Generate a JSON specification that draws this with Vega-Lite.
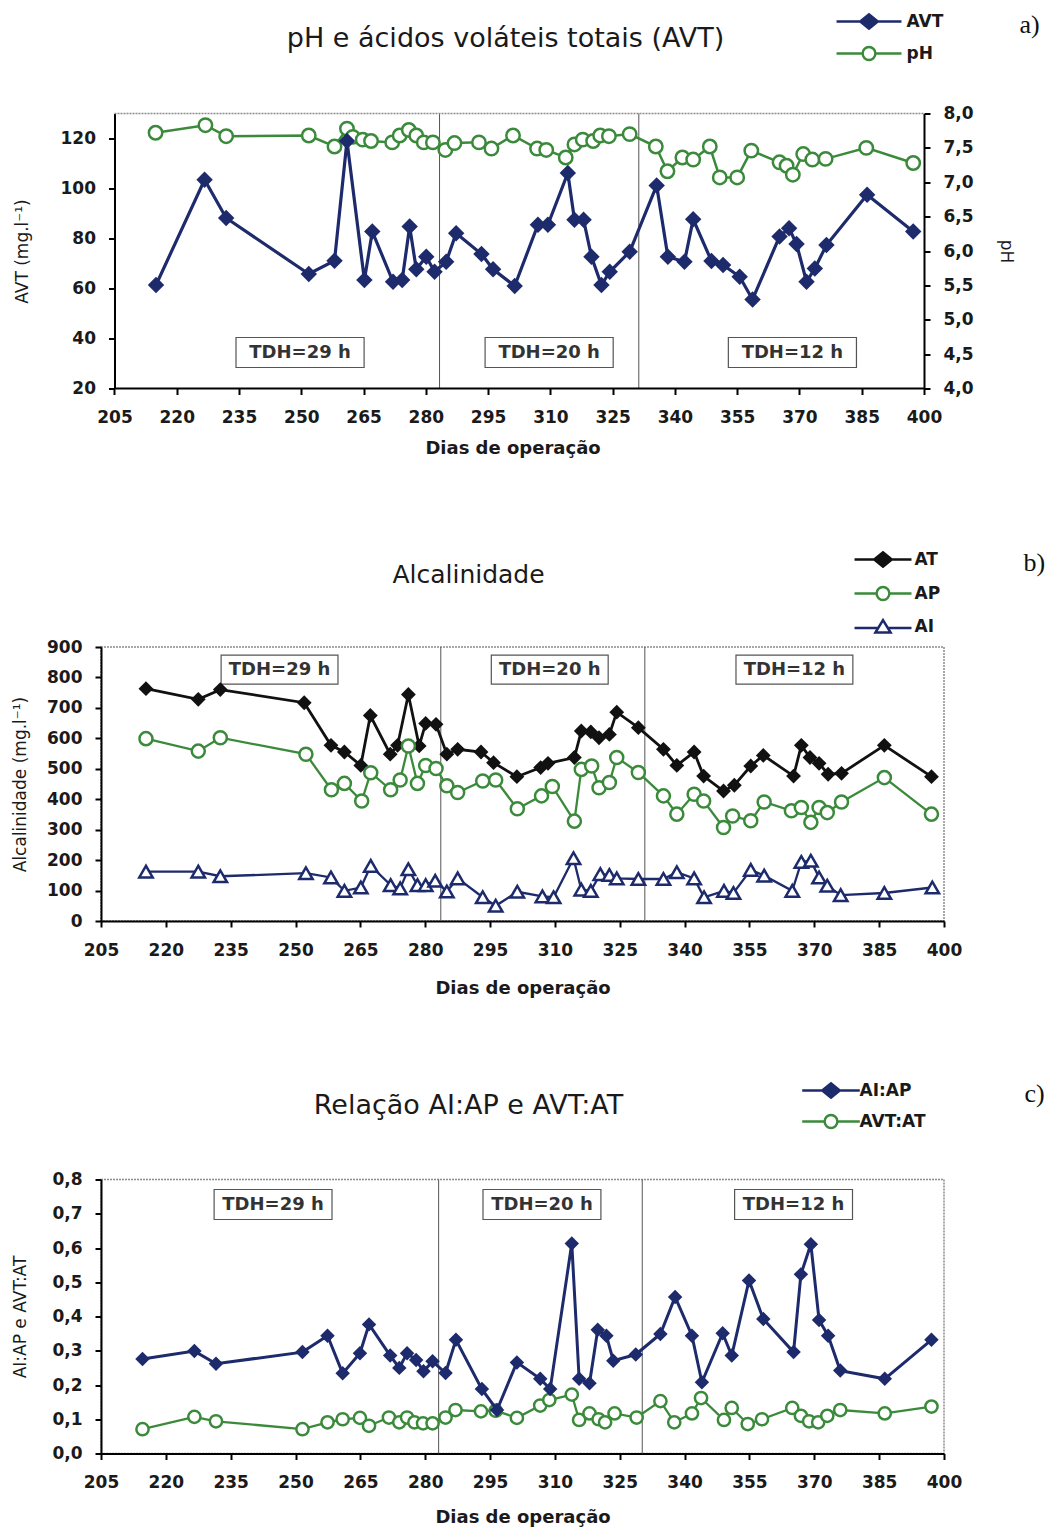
{
  "$schema": "https://vega.github.io/schema/vega-lite/v6.json",
  "background": "white",
  "padding": {"left": 10, "top": 11.5, "right": 5, "bottom": 5},
  "bounds": "flush",
  "spacing": 258.5,
  "resolve": {"scale": {"color": "independent"}, "legend": {"color": "independent"}},
  "datasets": {
    "a_avt": [
      {"s":"AVT","day":215.0,"v":61.4},{"s":"AVT","day":226.7,"v":103.5},{"s":"AVT","day":231.9,"v":88.2},{"s":"AVT","day":251.8,"v":65.8},
      {"s":"AVT","day":258.0,"v":71.1},{"s":"AVT","day":261.0,"v":119.0},{"s":"AVT","day":265.2,"v":63.4},{"s":"AVT","day":267.1,"v":82.8},
      {"s":"AVT","day":272.1,"v":62.7},{"s":"AVT","day":274.3,"v":63.4},{"s":"AVT","day":276.1,"v":84.8},{"s":"AVT","day":277.7,"v":67.7},
      {"s":"AVT","day":280.1,"v":72.7},{"s":"AVT","day":282.1,"v":66.7},{"s":"AVT","day":284.9,"v":70.7},{"s":"AVT","day":287.3,"v":82.1},
      {"s":"AVT","day":293.4,"v":73.8},{"s":"AVT","day":296.2,"v":67.7},{"s":"AVT","day":301.4,"v":61.0},{"s":"AVT","day":307.0,"v":85.5},
      {"s":"AVT","day":309.4,"v":85.5},{"s":"AVT","day":314.2,"v":106.2},{"s":"AVT","day":315.8,"v":87.5},{"s":"AVT","day":318.0,"v":87.5},
      {"s":"AVT","day":319.9,"v":72.7},{"s":"AVT","day":322.3,"v":61.4},{"s":"AVT","day":324.3,"v":66.7},{"s":"AVT","day":329.1,"v":74.7},
      {"s":"AVT","day":335.6,"v":101.2},{"s":"AVT","day":338.3,"v":72.7},{"s":"AVT","day":342.3,"v":70.7},{"s":"AVT","day":344.4,"v":87.7},
      {"s":"AVT","day":348.8,"v":71.0},{"s":"AVT","day":351.6,"v":69.4},{"s":"AVT","day":355.6,"v":64.7},{"s":"AVT","day":358.7,"v":55.6},
      {"s":"AVT","day":365.2,"v":80.8},{"s":"AVT","day":367.5,"v":84.1},{"s":"AVT","day":369.3,"v":77.8},{"s":"AVT","day":371.7,"v":62.7},
      {"s":"AVT","day":373.7,"v":68.0},{"s":"AVT","day":376.5,"v":77.4},{"s":"AVT","day":386.3,"v":97.5},{"s":"AVT","day":397.4,"v":82.8}
    ],
    "a_ph": [
      {"s":"pH","day":214.9,"v":7.72},{"s":"pH","day":226.9,"v":7.83},{"s":"pH","day":231.9,"v":7.67},{"s":"pH","day":251.8,"v":7.68},
      {"s":"pH","day":258.0,"v":7.52},{"s":"pH","day":261.0,"v":7.78},{"s":"pH","day":262.4,"v":7.66},{"s":"pH","day":264.8,"v":7.62},
      {"s":"pH","day":266.8,"v":7.60},{"s":"pH","day":271.9,"v":7.58},{"s":"pH","day":273.7,"v":7.68},{"s":"pH","day":275.9,"v":7.76},
      {"s":"pH","day":277.7,"v":7.68},{"s":"pH","day":279.5,"v":7.58},{"s":"pH","day":281.7,"v":7.58},{"s":"pH","day":284.7,"v":7.47},
      {"s":"pH","day":286.9,"v":7.57},{"s":"pH","day":292.8,"v":7.58},{"s":"pH","day":295.8,"v":7.49},{"s":"pH","day":301.0,"v":7.68},
      {"s":"pH","day":306.8,"v":7.49},{"s":"pH","day":309.0,"v":7.47},{"s":"pH","day":313.7,"v":7.36},{"s":"pH","day":315.8,"v":7.55},
      {"s":"pH","day":317.8,"v":7.62},{"s":"pH","day":320.3,"v":7.60},{"s":"pH","day":322.0,"v":7.68},{"s":"pH","day":324.1,"v":7.67},
      {"s":"pH","day":329.1,"v":7.70},{"s":"pH","day":335.4,"v":7.52},{"s":"pH","day":338.2,"v":7.16},{"s":"pH","day":341.8,"v":7.36},
      {"s":"pH","day":344.4,"v":7.33},{"s":"pH","day":348.4,"v":7.52},{"s":"pH","day":350.8,"v":7.07},{"s":"pH","day":355.0,"v":7.07},
      {"s":"pH","day":358.4,"v":7.46},{"s":"pH","day":365.2,"v":7.29},{"s":"pH","day":366.9,"v":7.24},{"s":"pH","day":368.4,"v":7.11},
      {"s":"pH","day":370.9,"v":7.41},{"s":"pH","day":373.1,"v":7.33},{"s":"pH","day":376.3,"v":7.34},{"s":"pH","day":386.1,"v":7.50},
      {"s":"pH","day":397.4,"v":7.28}
    ],
    "b_at": [
      {"s":"AT","day":215.4,"v":763},{"s":"AT","day":227.5,"v":728},{"s":"AT","day":232.6,"v":760},{"s":"AT","day":252.0,"v":717},
      {"s":"AT","day":258.2,"v":577},{"s":"AT","day":261.3,"v":555},{"s":"AT","day":265.1,"v":511},{"s":"AT","day":267.3,"v":675},
      {"s":"AT","day":271.9,"v":548},{"s":"AT","day":273.6,"v":577},{"s":"AT","day":276.1,"v":744},{"s":"AT","day":278.6,"v":575},
      {"s":"AT","day":280.1,"v":649},{"s":"AT","day":282.5,"v":646},{"s":"AT","day":285.0,"v":548},{"s":"AT","day":287.5,"v":564},
      {"s":"AT","day":292.9,"v":555},{"s":"AT","day":295.8,"v":520},{"s":"AT","day":301.2,"v":474},{"s":"AT","day":306.7,"v":504},
      {"s":"AT","day":308.4,"v":518},{"s":"AT","day":314.5,"v":537},{"s":"AT","day":316.1,"v":624},{"s":"AT","day":318.3,"v":621},
      {"s":"AT","day":320.2,"v":602},{"s":"AT","day":322.6,"v":613},{"s":"AT","day":324.3,"v":686},{"s":"AT","day":329.3,"v":635},
      {"s":"AT","day":335.1,"v":564},{"s":"AT","day":338.2,"v":511},{"s":"AT","day":342.2,"v":555},{"s":"AT","day":344.4,"v":476},
      {"s":"AT","day":349.0,"v":427},{"s":"AT","day":351.5,"v":446},{"s":"AT","day":355.3,"v":509},{"s":"AT","day":358.2,"v":544},
      {"s":"AT","day":365.2,"v":476},{"s":"AT","day":367.0,"v":577},{"s":"AT","day":369.0,"v":537},{"s":"AT","day":371.1,"v":518},
      {"s":"AT","day":373.2,"v":482},{"s":"AT","day":376.3,"v":485},{"s":"AT","day":386.2,"v":577},{"s":"AT","day":397.1,"v":474}
    ],
    "b_ap": [
      {"s":"AP","day":215.4,"v":599},{"s":"AP","day":227.5,"v":558},{"s":"AP","day":232.6,"v":602},{"s":"AP","day":252.4,"v":548},
      {"s":"AP","day":258.3,"v":431},{"s":"AP","day":261.3,"v":452},{"s":"AP","day":265.3,"v":394},{"s":"AP","day":267.4,"v":487},
      {"s":"AP","day":272.0,"v":431},{"s":"AP","day":274.2,"v":463},{"s":"AP","day":276.1,"v":575},{"s":"AP","day":278.2,"v":452},
      {"s":"AP","day":280.1,"v":511},{"s":"AP","day":282.5,"v":501},{"s":"AP","day":285.0,"v":444},{"s":"AP","day":287.5,"v":422},
      {"s":"AP","day":293.3,"v":460},{"s":"AP","day":296.3,"v":463},{"s":"AP","day":301.3,"v":369},{"s":"AP","day":306.9,"v":411},
      {"s":"AP","day":309.4,"v":442},{"s":"AP","day":314.5,"v":328},{"s":"AP","day":316.1,"v":498},{"s":"AP","day":318.5,"v":509},
      {"s":"AP","day":320.2,"v":438},{"s":"AP","day":322.6,"v":455},{"s":"AP","day":324.3,"v":537},{"s":"AP","day":329.3,"v":488},
      {"s":"AP","day":335.1,"v":411},{"s":"AP","day":338.2,"v":351},{"s":"AP","day":342.2,"v":416},{"s":"AP","day":344.4,"v":394},
      {"s":"AP","day":349.0,"v":307},{"s":"AP","day":351.1,"v":345},{"s":"AP","day":355.3,"v":329},{"s":"AP","day":358.4,"v":391},
      {"s":"AP","day":364.7,"v":362},{"s":"AP","day":367.0,"v":373},{"s":"AP","day":369.2,"v":324},{"s":"AP","day":371.1,"v":373},
      {"s":"AP","day":373.0,"v":356},{"s":"AP","day":376.3,"v":391},{"s":"AP","day":386.2,"v":471},{"s":"AP","day":397.1,"v":351}
    ],
    "b_ai": [
      {"s":"AI","day":215.4,"v":162},{"s":"AI","day":227.5,"v":162},{"s":"AI","day":232.6,"v":147},{"s":"AI","day":252.4,"v":157},
      {"s":"AI","day":258.2,"v":143},{"s":"AI","day":261.3,"v":99},{"s":"AI","day":265.1,"v":110},{"s":"AI","day":267.4,"v":181},
      {"s":"AI","day":272.0,"v":118},{"s":"AI","day":274.2,"v":107},{"s":"AI","day":276.1,"v":170},{"s":"AI","day":278.2,"v":118},
      {"s":"AI","day":280.1,"v":118},{"s":"AI","day":282.3,"v":132},{"s":"AI","day":285.0,"v":97},{"s":"AI","day":287.5,"v":140},
      {"s":"AI","day":293.3,"v":78},{"s":"AI","day":296.3,"v":50},{"s":"AI","day":301.3,"v":96},{"s":"AI","day":307.1,"v":81},
      {"s":"AI","day":309.7,"v":78},{"s":"AI","day":314.3,"v":206},{"s":"AI","day":316.1,"v":103},{"s":"AI","day":318.3,"v":99},
      {"s":"AI","day":320.5,"v":154},{"s":"AI","day":322.6,"v":151},{"s":"AI","day":324.3,"v":140},{"s":"AI","day":329.3,"v":138},
      {"s":"AI","day":335.1,"v":138},{"s":"AI","day":338.2,"v":160},{"s":"AI","day":342.2,"v":140},{"s":"AI","day":344.5,"v":78},
      {"s":"AI","day":349.1,"v":99},{"s":"AI","day":351.3,"v":92},{"s":"AI","day":355.3,"v":168},{"s":"AI","day":358.4,"v":149},
      {"s":"AI","day":364.9,"v":99},{"s":"AI","day":367.0,"v":194},{"s":"AI","day":369.2,"v":198},{"s":"AI","day":371.1,"v":143},
      {"s":"AI","day":373.0,"v":116},{"s":"AI","day":376.1,"v":85},{"s":"AI","day":386.2,"v":92},{"s":"AI","day":397.3,"v":110}
    ],
    "c_aiap": [
      {"s":"AI:AP","day":214.6,"v":0.276},{"s":"AI:AP","day":226.6,"v":0.299},{"s":"AI:AP","day":231.6,"v":0.262},{"s":"AI:AP","day":251.6,"v":0.296},
      {"s":"AI:AP","day":257.4,"v":0.344},{"s":"AI:AP","day":260.9,"v":0.234},{"s":"AI:AP","day":264.9,"v":0.293},{"s":"AI:AP","day":267.0,"v":0.377},
      {"s":"AI:AP","day":271.9,"v":0.286},{"s":"AI:AP","day":274.0,"v":0.250},{"s":"AI:AP","day":275.8,"v":0.293},{"s":"AI:AP","day":277.9,"v":0.273},
      {"s":"AI:AP","day":279.6,"v":0.240},{"s":"AI:AP","day":281.7,"v":0.269},{"s":"AI:AP","day":284.7,"v":0.235},{"s":"AI:AP","day":287.1,"v":0.332},
      {"s":"AI:AP","day":293.1,"v":0.188},{"s":"AI:AP","day":296.6,"v":0.127},{"s":"AI:AP","day":301.2,"v":0.266},{"s":"AI:AP","day":306.6,"v":0.218},
      {"s":"AI:AP","day":308.9,"v":0.188},{"s":"AI:AP","day":313.9,"v":0.613},{"s":"AI:AP","day":315.6,"v":0.218},{"s":"AI:AP","day":318.0,"v":0.205},
      {"s":"AI:AP","day":319.9,"v":0.361},{"s":"AI:AP","day":321.9,"v":0.344},{"s":"AI:AP","day":323.5,"v":0.271},{"s":"AI:AP","day":328.7,"v":0.289},
      {"s":"AI:AP","day":334.4,"v":0.349},{"s":"AI:AP","day":337.8,"v":0.457},{"s":"AI:AP","day":341.7,"v":0.344},{"s":"AI:AP","day":344.0,"v":0.208},
      {"s":"AI:AP","day":348.8,"v":0.351},{"s":"AI:AP","day":350.9,"v":0.286},{"s":"AI:AP","day":354.9,"v":0.505},{"s":"AI:AP","day":358.2,"v":0.393},
      {"s":"AI:AP","day":365.2,"v":0.296},{"s":"AI:AP","day":366.9,"v":0.523},{"s":"AI:AP","day":369.2,"v":0.611},{"s":"AI:AP","day":371.1,"v":0.390},
      {"s":"AI:AP","day":373.2,"v":0.344},{"s":"AI:AP","day":376.0,"v":0.242},{"s":"AI:AP","day":386.3,"v":0.218},{"s":"AI:AP","day":397.1,"v":0.332}
    ],
    "c_avtat": [
      {"s":"AVT:AT","day":214.6,"v":0.071},{"s":"AVT:AT","day":226.6,"v":0.107},{"s":"AVT:AT","day":231.6,"v":0.094},{"s":"AVT:AT","day":251.6,"v":0.071},
      {"s":"AVT:AT","day":257.4,"v":0.091},{"s":"AVT:AT","day":260.9,"v":0.100},{"s":"AVT:AT","day":264.9,"v":0.104},{"s":"AVT:AT","day":267.0,"v":0.081},
      {"s":"AVT:AT","day":271.6,"v":0.105},{"s":"AVT:AT","day":274.0,"v":0.091},{"s":"AVT:AT","day":275.8,"v":0.105},{"s":"AVT:AT","day":277.5,"v":0.091},
      {"s":"AVT:AT","day":279.5,"v":0.088},{"s":"AVT:AT","day":281.7,"v":0.088},{"s":"AVT:AT","day":284.7,"v":0.105},{"s":"AVT:AT","day":287.0,"v":0.127},
      {"s":"AVT:AT","day":292.9,"v":0.123},{"s":"AVT:AT","day":296.3,"v":0.125},{"s":"AVT:AT","day":301.2,"v":0.104},{"s":"AVT:AT","day":306.6,"v":0.140},
      {"s":"AVT:AT","day":308.7,"v":0.156},{"s":"AVT:AT","day":313.9,"v":0.172},{"s":"AVT:AT","day":315.6,"v":0.098},{"s":"AVT:AT","day":318.0,"v":0.117},
      {"s":"AVT:AT","day":320.1,"v":0.100},{"s":"AVT:AT","day":321.6,"v":0.091},{"s":"AVT:AT","day":323.8,"v":0.117},{"s":"AVT:AT","day":328.9,"v":0.105},
      {"s":"AVT:AT","day":334.4,"v":0.153},{"s":"AVT:AT","day":337.6,"v":0.091},{"s":"AVT:AT","day":341.7,"v":0.117},{"s":"AVT:AT","day":343.8,"v":0.162},
      {"s":"AVT:AT","day":349.1,"v":0.098},{"s":"AVT:AT","day":350.9,"v":0.133},{"s":"AVT:AT","day":354.6,"v":0.086},{"s":"AVT:AT","day":357.9,"v":0.100},
      {"s":"AVT:AT","day":364.9,"v":0.133},{"s":"AVT:AT","day":366.9,"v":0.110},{"s":"AVT:AT","day":368.8,"v":0.094},{"s":"AVT:AT","day":370.9,"v":0.091},
      {"s":"AVT:AT","day":373.0,"v":0.110},{"s":"AVT:AT","day":376.0,"v":0.127},{"s":"AVT:AT","day":386.3,"v":0.117},{"s":"AVT:AT","day":397.1,"v":0.137}
    ],
    "div_a": [{"day":283.3},{"day":331.3}],
    "div_b": [{"day":283.6},{"day":330.8}],
    "div_c": [{"day":283.1},{"day":330.2}],
    "tdh_a": [{"label":"TDH=29 h","day":249.7,"v":34.4},{"label":"TDH=20 h","day":309.7,"v":34.4},{"label":"TDH=12 h","day":368.3,"v":34.4}],
    "tdh_b": [{"label":"TDH=29 h","day":246.3,"v":826},{"label":"TDH=20 h","day":308.8,"v":826},{"label":"TDH=12 h","day":365.4,"v":826}],
    "tdh_c": [{"label":"TDH=29 h","day":244.8,"v":0.727},{"label":"TDH=20 h","day":307.0,"v":0.727},{"label":"TDH=12 h","day":365.2,"v":0.727}]
  },
  "vconcat": [
    {
      "width": 823,
      "height": 275,
      "view": {"stroke": null},
      "title": {"text": "pH e ácidos voláteis totais (AVT)", "font": "DejaVu Sans", "fontSize": 27, "fontWeight": "normal", "color": "#1a1a1a", "frame": "group", "anchor": "middle", "dx": -7, "offset": -41},
      "layer": [
        {
          "layer": [
            {
              "data": {"name": "div_a"},
              "mark": {"type": "rule", "stroke": "#555555", "strokeWidth": 1},
              "encoding": {
                "x": {"field": "day", "type": "quantitative", "scale": {"domain": [201.75, 400], "nice": false, "zero": false}, "axis": {"values": [205,220,235,250,265,280,295,310,325,340,355,370,385,400], "title": "Dias de operação", "domain": false, "titlePadding": 14}}
              }
            },
            {
              "data": {"values": [{}]},
              "mark": {"type": "rule", "stroke": "#8c8c8c", "strokeWidth": 1.5, "strokeDash": [2, 1]},
              "encoding": {
                "x": {"datum": 205, "type": "quantitative", "scale": {"domain": [201.75, 400], "nice": false, "zero": false}, "axis": {"values": [205,220,235,250,265,280,295,310,325,340,355,370,385,400], "title": "Dias de operação", "domain": false, "titlePadding": 14}},
                "x2": {"datum": 400},
                "y": {"datum": 130, "type": "quantitative", "scale": {"domain": [20, 130], "nice": false, "zero": false}, "axis": null}
              }
            },
            {
              "data": {"values": [{}]},
              "mark": {"type": "rule", "stroke": "#000000", "strokeWidth": 2},
              "encoding": {
                "x": {"datum": 205, "type": "quantitative", "scale": {"domain": [201.75, 400], "nice": false, "zero": false}, "axis": {"values": [205,220,235,250,265,280,295,310,325,340,355,370,385,400], "title": "Dias de operação", "domain": false, "titlePadding": 14}},
                "x2": {"datum": 400},
                "y": {"datum": 20, "type": "quantitative", "scale": {"domain": [20, 130], "nice": false, "zero": false}, "axis": null}
              }
            },
            {
              "data": {"name": "tdh_a"},
              "mark": {"type": "point", "shape": "M-4.27,-1L4.27,-1L4.27,1L-4.27,1Z", "size": 900, "filled": true, "fill": "white", "stroke": "#555555", "strokeWidth": 1.2, "opacity": 1},
              "encoding": {
                "x": {"field": "day", "type": "quantitative", "scale": {"domain": [201.75, 400], "nice": false, "zero": false}, "axis": {"values": [205,220,235,250,265,280,295,310,325,340,355,370,385,400], "title": "Dias de operação", "domain": false, "titlePadding": 14}},
                "y": {"field": "v", "type": "quantitative", "scale": {"domain": [20, 130], "nice": false, "zero": false}, "axis": null}
              }
            },
            {
              "data": {"name": "tdh_a"},
              "mark": {"type": "text", "font": "DejaVu Sans", "fontSize": 18, "fontWeight": "bold", "color": "#333333", "align": "center", "baseline": "middle"},
              "encoding": {
                "x": {"field": "day", "type": "quantitative", "scale": {"domain": [201.75, 400], "nice": false, "zero": false}, "axis": {"values": [205,220,235,250,265,280,295,310,325,340,355,370,385,400], "title": "Dias de operação", "domain": false, "titlePadding": 14}},
                "y": {"field": "v", "type": "quantitative", "scale": {"domain": [20, 130], "nice": false, "zero": false}, "axis": null},
                "text": {"field": "label"}
              }
            }
          ]
        },
        {
          "data": {"name": "a_ph"},
          "mark": {"type": "line", "strokeWidth": 2.5, "point": {"shape": "circle", "filled": false, "fill": "white", "size": 180, "strokeWidth": 2.5, "opacity": 1}},
          "encoding": {
            "x": {"field": "day", "type": "quantitative", "scale": {"domain": [201.75, 400], "nice": false, "zero": false}, "axis": {"values": [205,220,235,250,265,280,295,310,325,340,355,370,385,400], "title": "Dias de operação", "domain": false, "titlePadding": 14}},
            "y": {"field": "v", "type": "quantitative", "scale": {"domain": [4, 8], "nice": false, "zero": false}, "axis": {"orient": "right", "values": [4,4.5,5,5.5,6,6.5,7,7.5,8], "labelExpr": "replace(format(datum.value, '.1f'), '.', ',')", "title": "pH", "titlePadding": 23}},
            "color": {"field": "s", "type": "nominal", "scale": {"domain": ["AVT", "pH"], "range": ["#1d2a6b", "#3b8a3b"]},
              "legend": {"orient": "none", "legendX": 758.5, "legendY": -101.5, "title": "a)", "titleOrient": "right", "titleAnchor": "start", "titleBaseline": "top", "titleFont": "Liberation Serif", "titleFontSize": 26, "titleFontWeight": "normal", "titleColor": "#111111", "titlePadding": 76, "labelFont": "DejaVu Sans", "labelFontSize": 17, "labelFontWeight": "bold", "labelColor": "#1a1a1a", "labelOffset": 28, "rowPadding": 8, "symbolSize": 256,
                "encode": {"symbols": {"update": {
                  "shape": {"signal": "datum.value === 'AVT' ? 'M-4.06,0L4.06,0M-1.1,0L0,-0.9L1.1,0L0,0.9Z' : 'M-4.06,0L-0.8,0M0.8,0L4.06,0M0.8,0A0.8,0.8,0,1,1,-0.8,0A0.8,0.8,0,1,1,0.8,0Z'"},
                  "fill": {"signal": "datum.value === 'AVT' ? '#1d2a6b' : '#ffffff'"},
                  "fillOpacity": {"signal": "datum.value === 'AVT' ? 1 : 0"},
                  "stroke": {"signal": "datum.value === 'AVT' ? '#1d2a6b' : '#3b8a3b'"},
                  "strokeWidth": {"value": 2.5}, "size": {"value": 256}, "opacity": {"value": 1}}}}}}
          }
        },
        {
          "data": {"name": "a_avt"},
          "mark": {"type": "line", "strokeWidth": 3.2, "point": {"shape": "diamond", "filled": true, "size": 270, "opacity": 1}},
          "encoding": {
            "x": {"field": "day", "type": "quantitative", "scale": {"domain": [201.75, 400], "nice": false, "zero": false}, "axis": {"values": [205,220,235,250,265,280,295,310,325,340,355,370,385,400], "title": "Dias de operação", "domain": false, "titlePadding": 14}},
            "y": {"field": "v", "type": "quantitative", "scale": {"domain": [20, 130], "nice": false, "zero": false}, "axis": {"values": [20,40,60,80,100,120], "title": "AVT (mg.l⁻¹)", "offset": -13.5, "titlePadding": 29}},
            "color": {"field": "s", "type": "nominal", "scale": {"domain": ["AVT", "pH"], "range": ["#1d2a6b", "#3b8a3b"]},
              "legend": {"orient": "none", "legendX": 758.5, "legendY": -101.5, "title": "a)", "titleOrient": "right", "titleAnchor": "start", "titleBaseline": "top", "titleFont": "Liberation Serif", "titleFontSize": 26, "titleFontWeight": "normal", "titleColor": "#111111", "titlePadding": 76, "labelFont": "DejaVu Sans", "labelFontSize": 17, "labelFontWeight": "bold", "labelColor": "#1a1a1a", "labelOffset": 28, "rowPadding": 8, "symbolSize": 256,
                "encode": {"symbols": {"update": {
                  "shape": {"signal": "datum.value === 'AVT' ? 'M-4.06,0L4.06,0M-1.1,0L0,-0.9L1.1,0L0,0.9Z' : 'M-4.06,0L-0.8,0M0.8,0L4.06,0M0.8,0A0.8,0.8,0,1,1,-0.8,0A0.8,0.8,0,1,1,0.8,0Z'"},
                  "fill": {"signal": "datum.value === 'AVT' ? '#1d2a6b' : '#ffffff'"},
                  "fillOpacity": {"signal": "datum.value === 'AVT' ? 1 : 0"},
                  "stroke": {"signal": "datum.value === 'AVT' ? '#1d2a6b' : '#3b8a3b'"},
                  "strokeWidth": {"value": 2.5}, "size": {"value": 256}, "opacity": {"value": 1}}}}}}
          }
        }
      ],
      "resolve": {"scale": {"y": "independent"}}
    },
    {
      "width": 843,
      "height": 274,
      "title": {"text": "Alcalinidade", "font": "DejaVu Sans", "fontSize": 25, "fontWeight": "normal", "color": "#1a1a1a", "frame": "group", "anchor": "middle", "dx": -54, "offset": -37.5},
      "layer": [
        {
          "data": {"name": "div_b"},
          "mark": {"type": "rule", "stroke": "#555555", "strokeWidth": 1},
          "encoding": {
            "x": {"field": "day", "type": "quantitative", "scale": {"domain": [205, 400], "nice": false, "zero": false}, "axis": {"values": [205,220,235,250,265,280,295,310,325,340,355,370,385,400], "title": "Dias de operação", "titlePadding": 21}}
          }
        },
        {
          "data": {"name": "tdh_b"},
          "mark": {"type": "point", "shape": "M-4.03,-1L4.03,-1L4.03,1L-4.03,1Z", "size": 841, "filled": true, "fill": "white", "stroke": "#555555", "strokeWidth": 1.2, "opacity": 1},
          "encoding": {
            "x": {"field": "day", "type": "quantitative", "scale": {"domain": [205, 400], "nice": false, "zero": false}, "axis": {"values": [205,220,235,250,265,280,295,310,325,340,355,370,385,400], "title": "Dias de operação", "titlePadding": 21}},
            "y": {"field": "v", "type": "quantitative", "scale": {"domain": [0, 900], "nice": false, "zero": false}, "axis": {"values": [0,100,200,300,400,500,600,700,800,900], "title": "Alcalinidade (mg.l⁻¹)", "titlePadding": 17.5}}
          }
        },
        {
          "data": {"name": "tdh_b"},
          "mark": {"type": "text", "font": "DejaVu Sans", "fontSize": 18, "fontWeight": "bold", "color": "#333333", "align": "center", "baseline": "middle"},
          "encoding": {
            "x": {"field": "day", "type": "quantitative", "scale": {"domain": [205, 400], "nice": false, "zero": false}, "axis": {"values": [205,220,235,250,265,280,295,310,325,340,355,370,385,400], "title": "Dias de operação", "titlePadding": 21}},
            "y": {"field": "v", "type": "quantitative", "scale": {"domain": [0, 900], "nice": false, "zero": false}, "axis": {"values": [0,100,200,300,400,500,600,700,800,900], "title": "Alcalinidade (mg.l⁻¹)", "titlePadding": 17.5}},
            "text": {"field": "label"}
          }
        },
        {
          "data": {"name": "b_at"},
          "mark": {"type": "line", "strokeWidth": 2.8, "point": {"shape": "diamond", "filled": true, "size": 220, "opacity": 1}},
          "encoding": {
            "x": {"field": "day", "type": "quantitative", "scale": {"domain": [205, 400], "nice": false, "zero": false}, "axis": {"values": [205,220,235,250,265,280,295,310,325,340,355,370,385,400], "title": "Dias de operação", "titlePadding": 21}},
            "y": {"field": "v", "type": "quantitative", "scale": {"domain": [0, 900], "nice": false, "zero": false}, "axis": {"values": [0,100,200,300,400,500,600,700,800,900], "title": "Alcalinidade (mg.l⁻¹)", "titlePadding": 17.5}},
            "color": {"field": "s", "type": "nominal", "scale": {"domain": ["AT", "AP", "AI"], "range": ["#111111", "#3b8a3b", "#1d2a6b"]},
              "legend": {"orient": "none", "legendX": 772.5, "legendY": -97, "title": "b)", "titleOrient": "right", "titleAnchor": "start", "titleBaseline": "top", "titleFont": "Liberation Serif", "titleFontSize": 26, "titleFontWeight": "normal", "titleColor": "#111111", "titlePadding": 83, "labelFont": "DejaVu Sans", "labelFontSize": 17, "labelFontWeight": "bold", "labelColor": "#1a1a1a", "labelOffset": 22, "rowPadding": 10, "symbolSize": 256,
                "encode": {"symbols": {"update": {
                  "shape": {"signal": "datum.value === 'AT' ? 'M-3.56,0L3.56,0M-1.1,0L0,-0.9L1.1,0L0,0.9Z' : datum.value === 'AP' ? 'M-3.56,0L-0.8,0M0.8,0L3.56,0M0.8,0A0.8,0.8,0,1,1,-0.8,0A0.8,0.8,0,1,1,0.8,0Z' : 'M-3.56,0.2L-0.61,0.2M0.61,0.2L3.56,0.2M0,-0.8L0.95,0.75L-0.95,0.75Z'"},
                  "fill": {"signal": "datum.value === 'AT' ? '#111111' : '#ffffff'"},
                  "fillOpacity": {"signal": "datum.value === 'AT' ? 1 : 0"},
                  "stroke": {"signal": "datum.value === 'AT' ? '#111111' : datum.value === 'AP' ? '#3b8a3b' : '#1d2a6b'"},
                  "strokeWidth": {"value": 2.5}, "size": {"value": 256}, "opacity": {"value": 1}}}}}}
          }
        },
        {
          "data": {"name": "b_ap"},
          "mark": {"type": "line", "strokeWidth": 2.3, "point": {"shape": "circle", "filled": false, "fill": "white", "size": 170, "strokeWidth": 2.5, "opacity": 1}},
          "encoding": {
            "x": {"field": "day", "type": "quantitative", "scale": {"domain": [205, 400], "nice": false, "zero": false}, "axis": {"values": [205,220,235,250,265,280,295,310,325,340,355,370,385,400], "title": "Dias de operação", "titlePadding": 21}},
            "y": {"field": "v", "type": "quantitative", "scale": {"domain": [0, 900], "nice": false, "zero": false}, "axis": {"values": [0,100,200,300,400,500,600,700,800,900], "title": "Alcalinidade (mg.l⁻¹)", "titlePadding": 17.5}},
            "color": {"field": "s", "type": "nominal", "scale": {"domain": ["AT", "AP", "AI"], "range": ["#111111", "#3b8a3b", "#1d2a6b"]},
              "legend": {"orient": "none", "legendX": 772.5, "legendY": -97, "title": "b)", "titleOrient": "right", "titleAnchor": "start", "titleBaseline": "top", "titleFont": "Liberation Serif", "titleFontSize": 26, "titleFontWeight": "normal", "titleColor": "#111111", "titlePadding": 83, "labelFont": "DejaVu Sans", "labelFontSize": 17, "labelFontWeight": "bold", "labelColor": "#1a1a1a", "labelOffset": 22, "rowPadding": 10, "symbolSize": 256,
                "encode": {"symbols": {"update": {
                  "shape": {"signal": "datum.value === 'AT' ? 'M-3.56,0L3.56,0M-1.1,0L0,-0.9L1.1,0L0,0.9Z' : datum.value === 'AP' ? 'M-3.56,0L-0.8,0M0.8,0L3.56,0M0.8,0A0.8,0.8,0,1,1,-0.8,0A0.8,0.8,0,1,1,0.8,0Z' : 'M-3.56,0.2L-0.61,0.2M0.61,0.2L3.56,0.2M0,-0.8L0.95,0.75L-0.95,0.75Z'"},
                  "fill": {"signal": "datum.value === 'AT' ? '#111111' : '#ffffff'"},
                  "fillOpacity": {"signal": "datum.value === 'AT' ? 1 : 0"},
                  "stroke": {"signal": "datum.value === 'AT' ? '#111111' : datum.value === 'AP' ? '#3b8a3b' : '#1d2a6b'"},
                  "strokeWidth": {"value": 2.5}, "size": {"value": 256}, "opacity": {"value": 1}}}}}}
          }
        },
        {
          "data": {"name": "b_ai"},
          "mark": {"type": "line", "strokeWidth": 2.3, "point": {"shape": "triangle-up", "filled": false, "fill": "white", "size": 180, "strokeWidth": 2.5, "opacity": 1}},
          "encoding": {
            "x": {"field": "day", "type": "quantitative", "scale": {"domain": [205, 400], "nice": false, "zero": false}, "axis": {"values": [205,220,235,250,265,280,295,310,325,340,355,370,385,400], "title": "Dias de operação", "titlePadding": 21}},
            "y": {"field": "v", "type": "quantitative", "scale": {"domain": [0, 900], "nice": false, "zero": false}, "axis": {"values": [0,100,200,300,400,500,600,700,800,900], "title": "Alcalinidade (mg.l⁻¹)", "titlePadding": 17.5}},
            "color": {"field": "s", "type": "nominal", "scale": {"domain": ["AT", "AP", "AI"], "range": ["#111111", "#3b8a3b", "#1d2a6b"]},
              "legend": {"orient": "none", "legendX": 772.5, "legendY": -97, "title": "b)", "titleOrient": "right", "titleAnchor": "start", "titleBaseline": "top", "titleFont": "Liberation Serif", "titleFontSize": 26, "titleFontWeight": "normal", "titleColor": "#111111", "titlePadding": 83, "labelFont": "DejaVu Sans", "labelFontSize": 17, "labelFontWeight": "bold", "labelColor": "#1a1a1a", "labelOffset": 22, "rowPadding": 10, "symbolSize": 256,
                "encode": {"symbols": {"update": {
                  "shape": {"signal": "datum.value === 'AT' ? 'M-3.56,0L3.56,0M-1.1,0L0,-0.9L1.1,0L0,0.9Z' : datum.value === 'AP' ? 'M-3.56,0L-0.8,0M0.8,0L3.56,0M0.8,0A0.8,0.8,0,1,1,-0.8,0A0.8,0.8,0,1,1,0.8,0Z' : 'M-3.56,0.2L-0.61,0.2M0.61,0.2L3.56,0.2M0,-0.8L0.95,0.75L-0.95,0.75Z'"},
                  "fill": {"signal": "datum.value === 'AT' ? '#111111' : '#ffffff'"},
                  "fillOpacity": {"signal": "datum.value === 'AT' ? 1 : 0"},
                  "stroke": {"signal": "datum.value === 'AT' ? '#111111' : datum.value === 'AP' ? '#3b8a3b' : '#1d2a6b'"},
                  "strokeWidth": {"value": 2.5}, "size": {"value": 256}, "opacity": {"value": 1}}}}}}
          }
        }
      ]
    },
    {
      "width": 843,
      "height": 274,
      "title": {"text": "Relação AI:AP e AVT:AT", "font": "DejaVu Sans", "fontSize": 27, "fontWeight": "normal", "color": "#1a1a1a", "frame": "group", "anchor": "middle", "dx": -54, "offset": -38.5},
      "layer": [
        {
          "data": {"name": "div_c"},
          "mark": {"type": "rule", "stroke": "#555555", "strokeWidth": 1},
          "encoding": {
            "x": {"field": "day", "type": "quantitative", "scale": {"domain": [205, 400], "nice": false, "zero": false}, "axis": {"values": [205,220,235,250,265,280,295,310,325,340,355,370,385,400], "title": "Dias de operação", "titlePadding": 18}}
          }
        },
        {
          "data": {"name": "tdh_c"},
          "mark": {"type": "point", "shape": "M-3.93,-1L3.93,-1L3.93,1L-3.93,1Z", "size": 900, "filled": true, "fill": "white", "stroke": "#555555", "strokeWidth": 1.2, "opacity": 1},
          "encoding": {
            "x": {"field": "day", "type": "quantitative", "scale": {"domain": [205, 400], "nice": false, "zero": false}, "axis": {"values": [205,220,235,250,265,280,295,310,325,340,355,370,385,400], "title": "Dias de operação", "titlePadding": 18}},
            "y": {"field": "v", "type": "quantitative", "scale": {"domain": [0, 0.8], "nice": false, "zero": false}, "axis": {"values": [0,0.1,0.2,0.3,0.4,0.5,0.6,0.7,0.8], "labelExpr": "replace(format(datum.value, '.1f'), '.', ',')", "title": "AI:AP e AVT:AT", "titlePadding": 22.5}}
          }
        },
        {
          "data": {"name": "tdh_c"},
          "mark": {"type": "text", "font": "DejaVu Sans", "fontSize": 18, "fontWeight": "bold", "color": "#333333", "align": "center", "baseline": "middle"},
          "encoding": {
            "x": {"field": "day", "type": "quantitative", "scale": {"domain": [205, 400], "nice": false, "zero": false}, "axis": {"values": [205,220,235,250,265,280,295,310,325,340,355,370,385,400], "title": "Dias de operação", "titlePadding": 18}},
            "y": {"field": "v", "type": "quantitative", "scale": {"domain": [0, 0.8], "nice": false, "zero": false}, "axis": {"values": [0,0.1,0.2,0.3,0.4,0.5,0.6,0.7,0.8], "labelExpr": "replace(format(datum.value, '.1f'), '.', ',')", "title": "AI:AP e AVT:AT", "titlePadding": 22.5}},
            "text": {"field": "label"}
          }
        },
        {
          "data": {"name": "c_avtat"},
          "mark": {"type": "line", "strokeWidth": 2.3, "point": {"shape": "circle", "filled": false, "fill": "white", "size": 150, "strokeWidth": 2.5, "opacity": 1}},
          "encoding": {
            "x": {"field": "day", "type": "quantitative", "scale": {"domain": [205, 400], "nice": false, "zero": false}, "axis": {"values": [205,220,235,250,265,280,295,310,325,340,355,370,385,400], "title": "Dias de operação", "titlePadding": 18}},
            "y": {"field": "v", "type": "quantitative", "scale": {"domain": [0, 0.8], "nice": false, "zero": false}, "axis": {"values": [0,0.1,0.2,0.3,0.4,0.5,0.6,0.7,0.8], "labelExpr": "replace(format(datum.value, '.1f'), '.', ',')", "title": "AI:AP e AVT:AT", "titlePadding": 22.5}},
            "color": {"field": "s", "type": "nominal", "scale": {"domain": ["AI:AP", "AVT:AT"], "range": ["#1d2a6b", "#3b8a3b"]},
              "legend": {"orient": "none", "legendX": 720.5, "legendY": -98.5, "title": "c)", "titleOrient": "right", "titleAnchor": "start", "titleBaseline": "top", "titleFont": "Liberation Serif", "titleFontSize": 26, "titleFontWeight": "normal", "titleColor": "#111111", "titlePadding": 99, "labelFont": "DejaVu Sans", "labelFontSize": 17, "labelFontWeight": "bold", "labelColor": "#1a1a1a", "labelOffset": 19, "rowPadding": 7, "symbolSize": 256,
                "encode": {"symbols": {"update": {
                  "shape": {"signal": "datum.value === 'AI:AP' ? 'M-3.6,0L3.6,0M-1.1,0L0,-0.9L1.1,0L0,0.9Z' : 'M-3.6,0L-0.8,0M0.8,0L3.6,0M0.8,0A0.8,0.8,0,1,1,-0.8,0A0.8,0.8,0,1,1,0.8,0Z'"},
                  "fill": {"signal": "datum.value === 'AI:AP' ? '#1d2a6b' : '#ffffff'"},
                  "fillOpacity": {"signal": "datum.value === 'AI:AP' ? 1 : 0"},
                  "stroke": {"signal": "datum.value === 'AI:AP' ? '#1d2a6b' : '#3b8a3b'"},
                  "strokeWidth": {"value": 2.5}, "size": {"value": 256}, "opacity": {"value": 1}}}}}}
          }
        },
        {
          "data": {"name": "c_aiap"},
          "mark": {"type": "line", "strokeWidth": 3, "point": {"shape": "diamond", "filled": true, "size": 210, "opacity": 1}},
          "encoding": {
            "x": {"field": "day", "type": "quantitative", "scale": {"domain": [205, 400], "nice": false, "zero": false}, "axis": {"values": [205,220,235,250,265,280,295,310,325,340,355,370,385,400], "title": "Dias de operação", "titlePadding": 18}},
            "y": {"field": "v", "type": "quantitative", "scale": {"domain": [0, 0.8], "nice": false, "zero": false}, "axis": {"values": [0,0.1,0.2,0.3,0.4,0.5,0.6,0.7,0.8], "labelExpr": "replace(format(datum.value, '.1f'), '.', ',')", "title": "AI:AP e AVT:AT", "titlePadding": 22.5}},
            "color": {"field": "s", "type": "nominal", "scale": {"domain": ["AI:AP", "AVT:AT"], "range": ["#1d2a6b", "#3b8a3b"]},
              "legend": {"orient": "none", "legendX": 720.5, "legendY": -98.5, "title": "c)", "titleOrient": "right", "titleAnchor": "start", "titleBaseline": "top", "titleFont": "Liberation Serif", "titleFontSize": 26, "titleFontWeight": "normal", "titleColor": "#111111", "titlePadding": 99, "labelFont": "DejaVu Sans", "labelFontSize": 17, "labelFontWeight": "bold", "labelColor": "#1a1a1a", "labelOffset": 19, "rowPadding": 7, "symbolSize": 256,
                "encode": {"symbols": {"update": {
                  "shape": {"signal": "datum.value === 'AI:AP' ? 'M-3.6,0L3.6,0M-1.1,0L0,-0.9L1.1,0L0,0.9Z' : 'M-3.6,0L-0.8,0M0.8,0L3.6,0M0.8,0A0.8,0.8,0,1,1,-0.8,0A0.8,0.8,0,1,1,0.8,0Z'"},
                  "fill": {"signal": "datum.value === 'AI:AP' ? '#1d2a6b' : '#ffffff'"},
                  "fillOpacity": {"signal": "datum.value === 'AI:AP' ? 1 : 0"},
                  "stroke": {"signal": "datum.value === 'AI:AP' ? '#1d2a6b' : '#3b8a3b'"},
                  "strokeWidth": {"value": 2.5}, "size": {"value": 256}, "opacity": {"value": 1}}}}}}
          }
        }
      ]
    }
  ],
  "config": {
    "font": "DejaVu Sans",
    "view": {"stroke": "#8c8c8c", "strokeDash": [2, 1], "strokeWidth": 1.5},
    "axis": {"grid": false, "domainColor": "#000000", "domainWidth": 2, "tickColor": "#000000", "tickWidth": 2, "tickSize": 6, "labelFont": "DejaVu Sans", "labelFontSize": 17, "labelFontWeight": "bold", "labelColor": "#1a1a1a", "titleFont": "DejaVu Sans", "titleColor": "#1a1a1a"},
    "axisX": {"labelPadding": 15, "labelFlush": false, "titleFontSize": 18, "titleFontWeight": "bold"},
    "axisY": {"labelPadding": 13, "titleFontSize": 17, "titleFontWeight": "normal"}
  }
}
